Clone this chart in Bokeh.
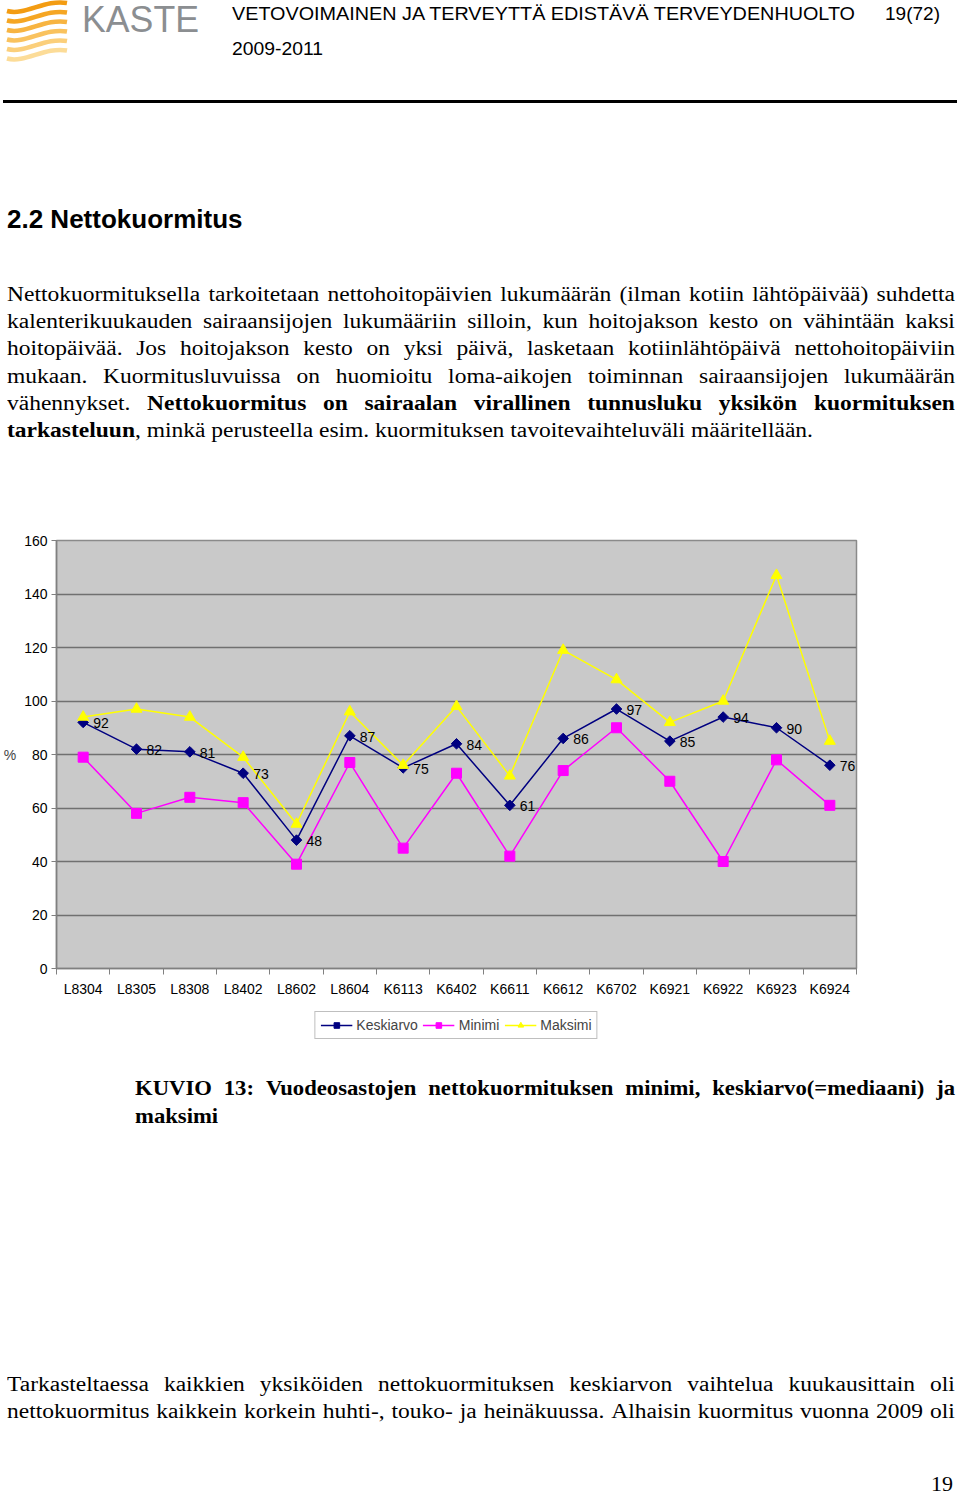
import numpy as np
from bokeh.plotting import figure
from bokeh.models import (Range1d, FixedTicker, CustomJSTickFormatter, Legend,
                          LegendItem, Div)
from bokeh.layouts import column
from bokeh.embed import file_html
from bokeh.resources import INLINE
from bokeh.core.properties import value

# ---------------- data ----------------
units = ["L8304", "L8305", "L8308", "L8402", "L8602", "L8604", "K6113", "K6402",
         "K6611", "K6612", "K6702", "K6921", "K6922", "K6923", "K6924"]
keskiarvo = [92, 82, 81, 73, 48, 87, 75, 84, 61, 86, 97, 85, 94, 90, 76]
minimi = [79, 58, 64, 62, 39, 77, 45, 73, 42, 74, 90, 70, 40, 78, 61]
maksimi = [94, 97, 94, 79, 54, 96, 76, 98, 72, 119, 108, 92, 100, 147, 85]
y_ticks = [0, 20, 40, 60, 80, 100, 120, 140, 160]
series_names = ["Keskiarvo", "Minimi", "Maksimi"]
series_colors = ["#000080", "#FF00FF", "#FFFF00"]

SANS = "Liberation Sans"
SERIF = "Liberation Serif"
SX = 1.175  # horizontal stretch of the page text

# ---------------- header (inline SVG) ----------------
stripe_cols = ["#F39C12", "#F5A623", "#F7B441", "#F9C25E", "#FBCF7B", "#FCDC98"]
paths = []
for i, c in enumerate(stripe_cols):
    y0 = 6 + 9.5 * i
    paths.append(f'<path d="M7 {y0 + 5:.1f} C25 {y0 + 10:.1f} 45 {y0 - 7:.1f} 67 {y0 - 3:.1f}" '
                 f'stroke="{c}" stroke-width="4.5" fill="none"/>')
hdr_svg = (
    '<svg xmlns="http://www.w3.org/2000/svg" width="960" height="110" '
    'style="position:absolute;left:0;top:0">'
    + "".join(paths) +
    f'<text x="82" y="31.5" font-family="{SANS}" font-size="37" fill="#8B8E91" '
    'textLength="117" lengthAdjust="spacingAndGlyphs">KASTE</text>'
    f'<text x="232" y="19.5" font-family="{SANS}" font-size="17.5" fill="#000" '
    'textLength="623" lengthAdjust="spacingAndGlyphs">VETOVOIMAINEN JA TERVEYTTÄ EDISTÄVÄ TERVEYDENHUOLTO</text>'
    f'<text x="885" y="19.5" font-family="{SANS}" font-size="17.5" fill="#000" '
    'textLength="55" lengthAdjust="spacingAndGlyphs">19(72)</text>'
    f'<text x="232" y="54.5" font-family="{SANS}" font-size="17.5" fill="#000" '
    'textLength="91" lengthAdjust="spacingAndGlyphs">2009-2011</text>'
    '<rect x="3" y="100" width="954" height="3" fill="#000"/>'
    '</svg>'
)
hdr = Div(text=f'<div style="position:relative;width:960px;height:110px;">{hdr_svg}</div>',
          width=960, height=110, margin=0)


# ---------------- text helpers ----------------
def line_html(text, left, top, width, size, weight="normal", family=SERIF,
              justify=True, align="left", sx=SX, bold_from=None):
    style = (f"position:absolute;left:{left}px;top:{top}px;width:{width / sx:.1f}px;"
             f"font-family:'{family}';font-size:{size}px;line-height:{size}px;"
             f"font-weight:{weight};color:#000;margin:0;padding:0;white-space:nowrap;"
             f"transform:scaleX({sx});transform-origin:{'100%' if align == 'right' else '0'} 0;")
    if justify:
        style += "display:flex;justify-content:space-between;"
        words = text.split(" ")
        spans = []
        for i, w in enumerate(words):
            b = "font-weight:bold;" if (bold_from is not None and i >= bold_from) else ""
            spans.append(f'<span style="{b}">{w}</span>')
        inner = "".join(spans)
    else:
        style += f"text-align:{align};"
        inner = text
    return f'<div style="{style}">{inner}</div>'


def block(parts, height):
    return (f'<div style="position:relative;width:960px;height:{height}px;margin:0;padding:0;">'
            + "".join(parts) + "</div>")


# ---------------- body text 1 ----------------
para1 = [
    ("Nettokuormituksella tarkoitetaan nettohoitopäivien lukumäärän (ilman kotiin lähtöpäivää) suhdetta", None),
    ("kalenterikuukauden sairaansijojen lukumääriin silloin, kun hoitojakson kesto on vähintään kaksi", None),
    ("hoitopäivää. Jos hoitojakson kesto on yksi päivä, lasketaan kotiinlähtöpäivä nettohoitopäiviin", None),
    ("mukaan. Kuormitusluvuissa on huomioitu loma-aikojen toiminnan sairaansijojen lukumäärän", None),
    ("vähennykset. Nettokuormitus on sairaalan virallinen tunnusluku yksikön kuormituksen", 1),
]
para1_last = "<b>tarkasteluun</b>, minkä perusteella esim. kuormituksen tavoitevaihteluväli määritellään."
parts1 = [line_html("2.2 Nettokuormitus", 7, 96.3, 600, 26, weight="bold", family=SANS,
                    justify=False, sx=1.0)]
for k, (t, bf) in enumerate(para1):
    parts1.append(line_html(t, 7, 174 + 27.2 * k, 948, 20, bold_from=bf))
parts1.append(line_html(para1_last, 7, 174 + 27.2 * len(para1), 948, 20, justify=False))
div1 = Div(text=block(parts1, 390), width=960, height=390, margin=0)

# ---------------- chart ----------------
x = np.arange(len(units)) + 0.5
p = figure(width=960, height=500, x_range=Range1d(0, len(units)), y_range=Range1d(0, 160),
           output_backend="svg", toolbar_location=None,
           min_border_left=54, min_border_right=104, min_border_top=40, min_border_bottom=32,
           background_fill_color="#C9C9C9", border_fill_color="white")
p.outline_line_color = "#8A8A8A"
p.outline_line_width = 1.5
p.xgrid.visible = False
p.ygrid.ticker = FixedTicker(ticks=y_ticks)
p.ygrid.grid_line_color = "#707070"
p.ygrid.grid_line_width = 1.5

p.xaxis.ticker = FixedTicker(ticks=list(x), minor_ticks=list(range(len(units) + 1)))
p.xaxis.formatter = CustomJSTickFormatter(args=dict(labels=units),
                                          code="return labels[Math.floor(tick)] || '';")
p.xaxis.major_tick_line_color = None
p.xaxis.major_tick_out = 0
p.xaxis.major_tick_in = 0
p.xaxis.minor_tick_out = 6
p.xaxis.minor_tick_in = 0
p.xaxis.minor_tick_line_color = "#808080"
p.xaxis.major_label_standoff = 6

p.yaxis.ticker = FixedTicker(ticks=y_ticks)
p.yaxis.major_tick_out = 5
p.yaxis.major_tick_in = 0
p.yaxis.minor_tick_line_color = None
p.yaxis.major_tick_line_color = "#808080"
p.yaxis.major_label_standoff = 4
p.yaxis.axis_label = "%"
p.yaxis.axis_label_orientation = "horizontal"
p.yaxis.axis_label_text_font_style = "normal"
p.yaxis.axis_label_text_font_size = "14px"
p.yaxis.axis_label_text_font = SANS
p.yaxis.axis_label_standoff = 5

for ax in (p.xaxis, p.yaxis):
    ax.axis_line_color = "#808080"
    ax.axis_line_width = 1.5
    ax.major_label_text_font = SANS
    ax.major_label_text_font_size = "14px"
    ax.major_label_text_color = "black"

series = [keskiarvo, minimi, maksimi]
marker_kw = [dict(marker="square", angle=np.pi / 4, size=7.5),
             dict(marker="square", size=10),
             dict(marker="triangle", size=11)]
for vals, col, mk in zip(series, series_colors, marker_kw):
    p.line(x, vals, line_color=col, line_width=1.5)
    p.scatter(x, vals, fill_color=col, line_color=col, **mk)
p.text(x, keskiarvo, text=[str(v) for v in keskiarvo], x_offset=10, y_offset=1,
       text_baseline="middle", text_align="left", text_font=value(SANS),
       text_font_size="14px", text_color="black")

# ---------------- legend (own strip, same frame as chart) ----------------
# the series are drawn here too, but lie outside this strip's range (only the legend shows)
lg = figure(width=960, height=50, x_range=Range1d(0, len(units)), y_range=Range1d(0, 1),
            x_axis_type=None, y_axis_type=None, output_backend="svg", toolbar_location=None,
            min_border_left=54, min_border_right=104, min_border_top=0, min_border_bottom=0,
            background_fill_color="white", border_fill_color="white")
lg.grid.visible = False
lg.outline_line_color = None
items = []
for name, vals, col, mk in zip(series_names, series, series_colors, marker_kw):
    rl = lg.line(x, vals, line_color=col, line_width=1.5)
    rm = lg.scatter(x, vals, fill_color=col, line_color=col, **mk)
    items.append(LegendItem(label=name, renderers=[rl, rm]))
legend = Legend(items=items, orientation="horizontal", location="center")
legend.border_line_color = "#808080"
legend.border_line_width = 1
legend.background_fill_color = "white"
legend.background_fill_alpha = 1
legend.padding = 5
legend.spacing = 5
legend.margin = 0
legend.glyph_width = 32
legend.glyph_height = 14
legend.label_standoff = 4
legend.label_height = 14
legend.label_text_font = SANS
legend.label_text_font_size = "14px"
lg.add_layout(legend)

# ---------------- body text 2 ----------------
CAP_SX = 1.08
parts2 = [
    line_html("KUVIO 13: Vuodeosastojen nettokuormituksen minimi, keskiarvo(=mediaani) ja",
              135, 28.1, 820, 21, weight="bold", sx=CAP_SX),
    line_html("maksimi", 135, 55.7, 820, 21, weight="bold", justify=False, sx=CAP_SX),
    line_html("Tarkasteltaessa kaikkien yksiköiden nettokuormituksen keskiarvon vaihtelua kuukausittain oli",
              7, 324.3, 948, 20),
    line_html("nettokuormitus kaikkein korkein huhti-, touko- ja heinäkuussa. Alhaisin kuormitus vuonna 2009 oli",
              7, 351.3, 948, 20),
    line_html("19", 853, 422.6, 100, 22, justify=False, align="right", sx=1.0),
]
div2 = Div(text=block(parts2, 454), width=960, height=454, margin=0)

page = column(hdr, div1, p, lg, div2, spacing=0, margin=0)
open("out.html", "w", encoding="utf-8").write(file_html(page, INLINE))
